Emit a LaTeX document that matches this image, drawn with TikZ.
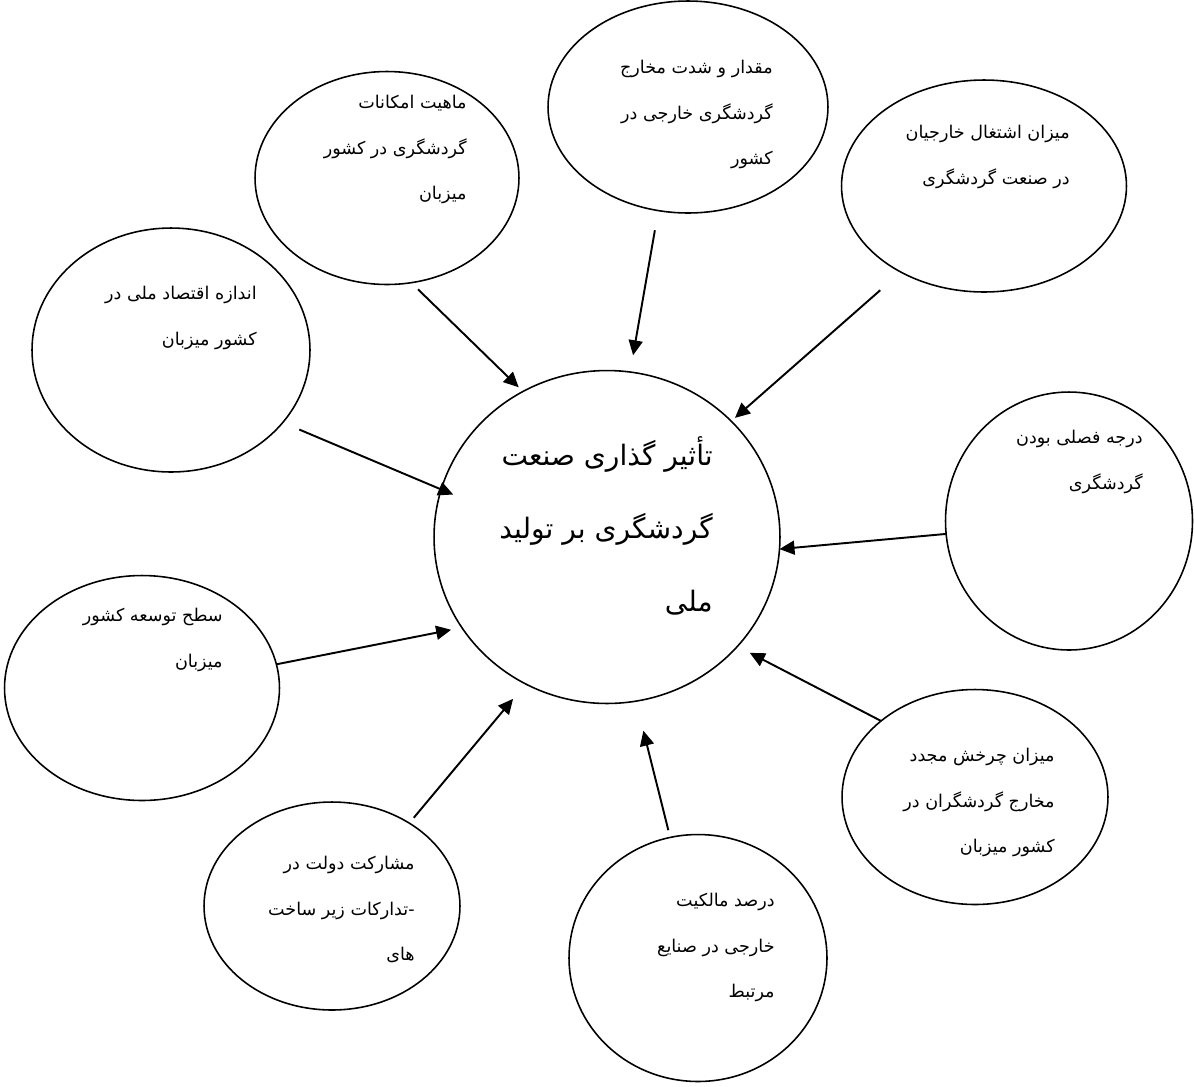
\documentclass[tikz,border=0pt]{standalone}
\usepackage{fontspec}
\usepackage{tikz}
\usetikzlibrary{shapes.geometric, arrows.meta}
\newfontfamily\arabicfont[Script=Arabic]{DejaVu Sans}
\TeXXeTstate=1
\newcommand{\rtl}[1]{\beginR #1\endR}

\tikzset{
  bubble/.style={draw, ellipse, line width=0.9pt, inner sep=0pt, outer sep=0pt},
  lbl/.style={anchor=north east, align=right, inner sep=0pt,
    font=\arabicfont\fontsize{10}{25.9}\selectfont},
  hubtxt/.style={anchor=north east, align=right, inner sep=0pt,
    font=\arabicfont\fontsize{16}{41.5}\selectfont},
  arr/.style={line width=1.1pt, -{Triangle[length=0.3cm, width=0.28cm]}}
}

\begin{document}
\begin{tikzpicture}[x=0.02cm, y=-0.02cm]

  \useasboundingbox (0,0) rectangle (1194,1086);

  % Draw the central circle
  \node[bubble, minimum width=6.92cm, minimum height=6.66cm] (hub) at (607,537) {};
  \node[hubtxt] (hubt) at (713,436) {\rtl{تأثیر گذاری صنعت}\\ \rtl{گردشگری بر تولید}\\ \rtl{ملی}};

  % Draw the factor circles around it
  \node[bubble, minimum width=5.28cm, minimum height=4.26cm] (mahiat) at (387,178) {};
  \node[bubble, minimum width=5.6cm, minimum height=4.24cm] (meghdar) at (688,107) {};
  \node[bubble, minimum width=5.7cm, minimum height=4.24cm] (ashteghal) at (984,186) {};
  \node[bubble, minimum width=5.56cm, minimum height=4.88cm] (andaze) at (171,350) {};
  \node[bubble, minimum width=4.94cm, minimum height=5.16cm] (daraje) at (1069,521) {};
  \node[bubble, minimum width=5.5cm, minimum height=4.5cm] (sath) at (142,688) {};
  \node[bubble, minimum width=5.32cm, minimum height=4.3cm] (charkhesh) at (975,797) {};
  \node[bubble, minimum width=5.12cm, minimum height=4.16cm] (mosharekat) at (332,906) {};
  \node[bubble, minimum width=5.16cm, minimum height=4.94cm] (darsad) at (698,958) {};

  % Texts of the factors
  \node[lbl] (mahiatt) at (467,95) {\rtl{ماهیت امکانات}\\ \rtl{گردشگری در کشور}\\ \rtl{میزبان}};
  \node[lbl] (meghdart) at (773,60) {\rtl{مقدار و شدت مخارج}\\ \rtl{گردشگری خارجی در}\\ \rtl{کشور}};
  \node[lbl] (ashteghalt) at (1070,125) {\rtl{میزان اشتغال خارجیان}\\ \rtl{در صنعت گردشگری}};
  \node[lbl] (andazet) at (257,286) {\rtl{اندازه اقتصاد ملی در}\\ \rtl{کشور میزبان}};
  \node[lbl] (darajet) at (1143,430) {\rtl{درجه فصلی بودن}\\ \rtl{گردشگری}};
  \node[lbl] (satht) at (223,608) {\rtl{سطح توسعه کشور}\\ \rtl{میزبان}};
  \node[lbl] (charkhesht) at (1055,748) {\rtl{میزان چرخش مجدد}\\ \rtl{مخارج گردشگران در}\\ \rtl{کشور میزبان}};
  \node[lbl] (mosharekatt) at (415,856) {\rtl{مشارکت دولت در}\\ \rtl{-تدارکات زیر ساخت}\\ \rtl{های}};
  \node[lbl] (darsadt) at (775,893) {\rtl{درصد مالکیت}\\ \rtl{خارجی در صنایع}\\ \rtl{مرتبط}};

  % Arrows into the central circle
  \draw[arr, shorten <=0.19cm, shorten >=0.12cm] (mahiat.283) -- (hub.120.7);
  \draw[arr, shorten <=0.4cm, shorten >=0.34cm] (meghdar.254.1) -- (hub.82.8);
  \draw[arr, shorten <=0.55cm, shorten >=0.1cm] (ashteghal.226.1) -- (hub.43.8);
  \draw[arr, shorten <=0.36cm, shorten >=-0.26cm] (andaze.327.2) -- (hub.164.7);
  \draw[arr] (daraje.186) -- (hub.356.4);
  \draw[arr, shorten >=0.22cm] (sath.10) -- (hub.212.2);
  \draw[arr, shorten >=0.28cm] (charkhesh.141.7) -- (hub.320.5);
  \draw[arr, shorten <=0.14cm, shorten >=0.39cm] (mosharekat.47.7) -- (hub.241.7);
  \draw[arr, shorten <=0.15cm, shorten >=0.61cm] (darsad.103.2) -- (hub.280.5);

\end{tikzpicture}
\end{document}
